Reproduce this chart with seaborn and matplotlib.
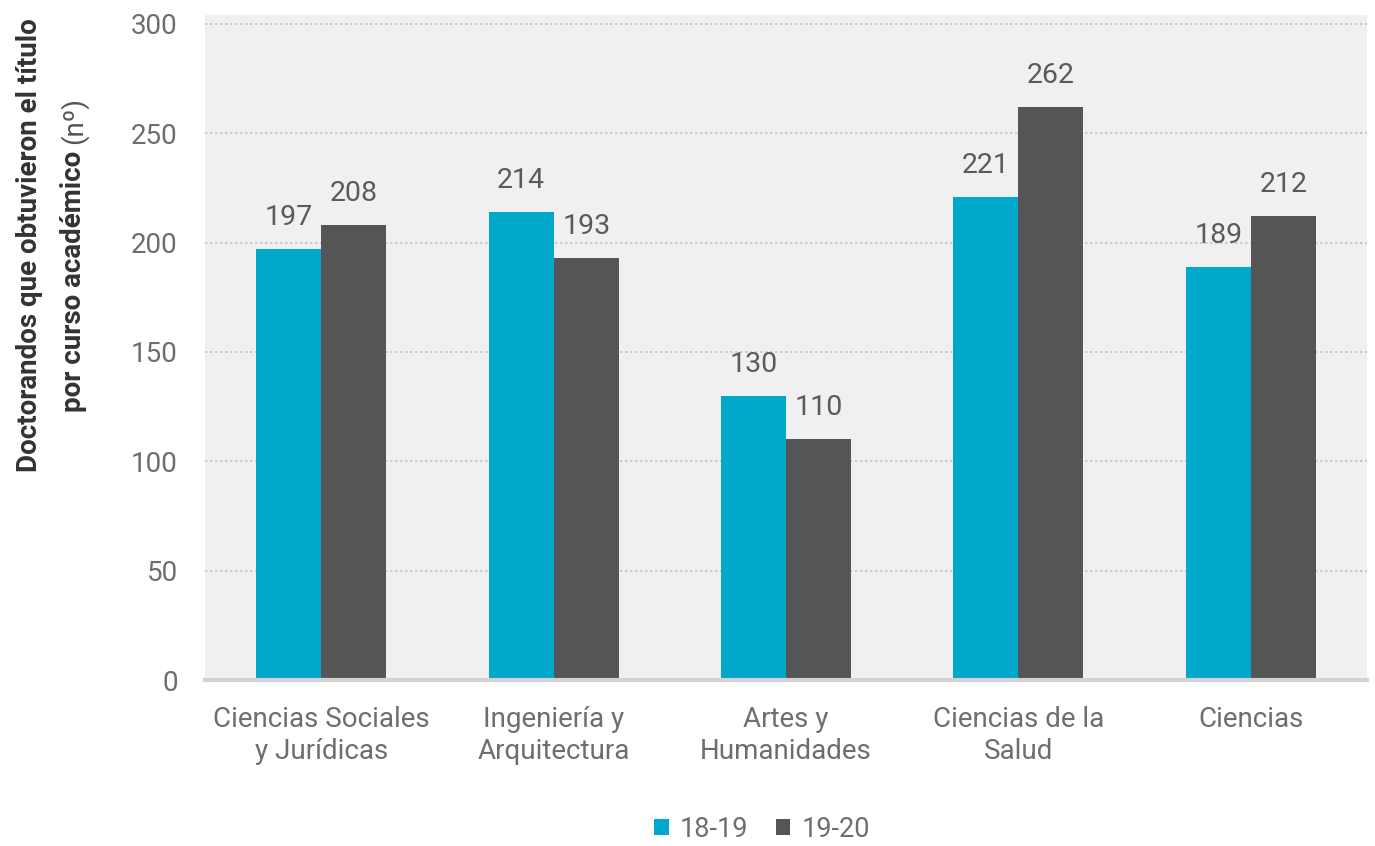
import matplotlib
matplotlib.use("Agg")
import matplotlib.pyplot as plt
import seaborn as sns
import pandas as pd
from matplotlib.patches import Patch

# Data
areas = ["Ciencias Sociales\ny Jurídicas", "Ingeniería y\nArquitectura",
         "Artes y\nHumanidades", "Ciencias de la\nSalud", "Ciencias"]
cursos = ["18-19", "19-20"]
valores_18_19 = [197, 214, 130, 221, 189]
valores_19_20 = [208, 193, 110, 262, 212]
y_ticks = [0, 50, 100, 150, 200, 250, 300]

df = pd.DataFrame({
    "area": areas * 2,
    "curso": [cursos[0]] * len(areas) + [cursos[1]] * len(areas),
    "valor": valores_18_19 + valores_19_20,
})

CYAN = "#00a8cc"
DARK = "#555555"
BG = "#f0f0f0"
TXT = "#6e6e6e"

sns.set_theme(style="white")
plt.rcParams["font.family"] = ["Roboto", "DejaVu Sans"]

fig = plt.figure(figsize=(13.75, 8.46), dpi=100)
ax = fig.add_axes([205 / 1375, 1 - 680 / 846, (1367 - 205) / 1375, (680 - 15) / 846])
ax.set_facecolor(BG)

sns.barplot(data=df, x="area", y="valor", hue="curso", order=areas,
            hue_order=cursos, palette=[CYAN, DARK], width=0.56, gap=0,
            saturation=1, legend=False, ax=ax, linewidth=0)

for cont in ax.containers:
    ax.bar_label(cont, fmt="%d", padding=13, fontsize=20.5, color="#5a5a5a")

ax.set_ylim(0, 304)
ax.set_xlim(-0.5, 4.5)
ax.set_yticks(y_ticks)
ax.set_yticklabels([str(v) for v in y_ticks])
ax.yaxis.grid(True, linestyle=(0, (1.5, 1.5)), color="#c4c4c4", linewidth=1.2)
ax.set_axisbelow(True)
for s in ["top", "right", "left"]:
    ax.spines[s].set_visible(False)
ax.spines["bottom"].set_color("#d2d2d2")
ax.spines["bottom"].set_linewidth(3)
ax.tick_params(axis="both", length=0, labelsize=20, labelcolor=TXT)
ax.tick_params(axis="y", pad=19.5)
ax.tick_params(axis="x", pad=19)
ax.set_xlabel("")
ax.set_ylabel("")

# Two-line vertical axis title, second line with a lighter unit suffix
fig.text(30 / 1375, 1 - 245 / 846, "Doctorandos que obtuvieron el título",
         rotation=90, ha="center", va="center", fontsize=20,
         fontweight="bold", color="#333333")
renderer = fig.canvas.get_renderer()
y0 = 1 - 412 / 846
t2 = fig.text(74 / 1375, y0, "por curso académico", rotation=90,
              ha="center", va="bottom", fontsize=20, fontweight="bold",
              color="#333333")
bb = t2.get_window_extent(renderer)
h = bb.height / fig.bbox.height
fig.text(74 / 1375, y0 + h + 7 / 846, "(nº)", rotation=90, ha="center",
         va="bottom", fontsize=20, color="#555555")

handles = [Patch(facecolor=CYAN, edgecolor="none"),
           Patch(facecolor=DARK, edgecolor="none")]
fig.legend(handles, cursos, loc="center", bbox_to_anchor=(762 / 1375, 1 - 829 / 846),
           ncol=2, frameon=False, fontsize=19.5, handlelength=0.55,
           handleheight=0.55, handletextpad=0.4, columnspacing=1.0,
           labelcolor=TXT, borderpad=0)

fig.savefig("out.png", dpi=100, facecolor="white")
